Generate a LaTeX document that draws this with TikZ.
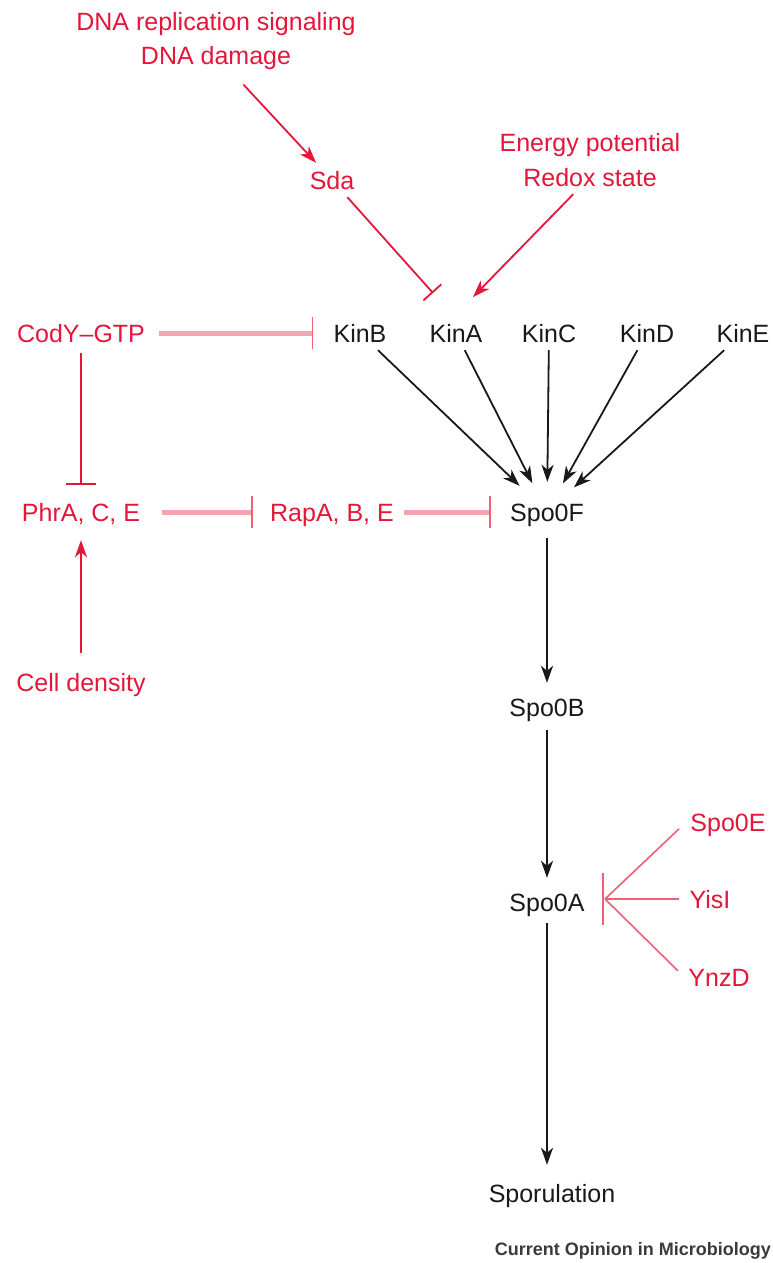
\documentclass[tikz,border=0pt]{standalone}
\usepackage{fontspec}
\setmainfont{Liberation Sans}
\usetikzlibrary{arrows.meta,calc}
\definecolor{rd}{RGB}{228,22,58}
\definecolor{pk}{RGB}{243,165,175}
\definecolor{pkbar}{RGB}{238,96,118}
\definecolor{ink}{RGB}{25,25,25}
\begin{document}
\begin{tikzpicture}[x=1pt,y=-1pt,
 lbl/.style={font=\fontsize{25}{30}\selectfont, text height=22pt, text depth=4pt, inner sep=4pt, text=ink},
 rlbl/.style={lbl, text=rd},
 act/.style={draw=ink, line width=1.8pt, -{Stealth[length=17pt,width=12pt,inset=5pt]}},
 ract/.style={draw=rd, line width=1.8pt, -{Stealth[length=17pt,width=12pt,inset=5pt]}},
 rinh/.style={draw=rd, line width=1.8pt, -{Bar[width=30pt,line width=1.8pt]}},
 pinh/.style={draw=pk, line width=5pt, -{Bar[width=32pt,line width=1.6pt,color=pkbar]}},
 sinh/.style={draw=pkbar, line width=1.6pt},
]
\fill[white] (0,0) rectangle (772,1263);
\useasboundingbox (0,0) rectangle (772,1263);

% nodes
\node[rlbl] (dna1) at (216,22) {DNA replication signaling};
\node[rlbl] (dna2) at (216,55) {DNA damage};
\node[rlbl] (sda) at (332,180) {Sda};
\node[rlbl] (energy) at (590,142) {Energy potential};
\node[rlbl] (redox) at (590,177) {Redox state};
\node[rlbl] (cody) at (81,333) {CodY–GTP};
\node[lbl] (kinB) at (360,333) {KinB};
\node[lbl] (kinA) at (456,333) {KinA};
\node[lbl] (kinC) at (549,333) {KinC};
\node[lbl] (kinD) at (647,333) {KinD};
\node[lbl] (kinE) at (743,333) {KinE};
\node[rlbl] (phr) at (81,512) {PhrA, C, E};
\node[rlbl] (rap) at (332,512) {RapA, B, E};
\node[lbl] (spo0F) at (547,512) {Spo0F};
\node[rlbl] (cell) at (81,682) {Cell density};
\node[lbl] (spo0B) at (547,707) {Spo0B};
\node[lbl] (spo0A) at (547,902) {Spo0A};
\node[rlbl] (spo0E) at (728,822) {Spo0E};
\node[rlbl] (yisI) at (710,899) {YisI};
\node[rlbl] (ynzD) at (719,977) {YnzD};
\node[lbl] (spor) at (552,1193) {Sporulation};
\node[font=\bfseries\fontsize{18}{20}\selectfont, text=ink!85, inner sep=0pt, anchor=east] (credit) at (771,1251) {Current Opinion in Microbiology};

\coordinate (sdaEnd) at (433,293);
\coordinate (enEnd) at (473,297);
\coordinate (conv) at (605,899);

% top signals
\draw[ract, shorten <=17pt] (dna2) -- (sda);
\draw[rd, line width=1.8pt, -{Bar[width=24pt,line width=1.8pt]}] (sda) -- (sdaEnd);
\draw[ract] (redox) -- (enEnd);

% kinases
\draw[act, shorten >=13pt] (kinB) -- (spo0F);
\draw[act, shorten >=13pt] (kinA) -- (spo0F);
\draw[act, shorten >=13pt] (kinC) -- (spo0F);
\draw[act, shorten >=13pt] (kinD) -- (spo0F);
\draw[act, shorten >=11pt] (kinE) -- (spo0F);

% left regulators
\draw[pinh, shorten <=10pt, shorten >=16pt] (cody) -- (kinB);
\draw[rinh, shorten <=3pt, shorten >=10pt] (cody) -- (phr);
\draw[pinh, shorten <=18pt, shorten >=13pt] (phr) -- (rap);
\draw[pinh, shorten <=6pt, shorten >=15pt] (rap) -- (spo0F);
\draw[ract, shorten <=12pt, shorten >=11pt] (cell) -- (phr);

% phosphorelay
\draw[act, shorten <=9pt, shorten >=7pt] (spo0F) -- (spo0B);
\draw[act, shorten <=6pt, shorten >=7pt] (spo0B) -- (spo0A);
\draw[act, shorten <=4pt, shorten >=11pt] (spo0A) -- (spo0A |- spor.north);

% phosphatases
\draw[sinh, shorten <=10pt] (spo0E.west) -- (conv);
\draw[sinh, shorten <=6pt] (yisI.west) -- (conv);
\draw[sinh, shorten <=9pt] (ynzD.west) -- (conv);
\draw[sinh] ($(conv)+(-2,-26)$) -- ($(conv)+(-2,26)$);
\end{tikzpicture}
\end{document}
